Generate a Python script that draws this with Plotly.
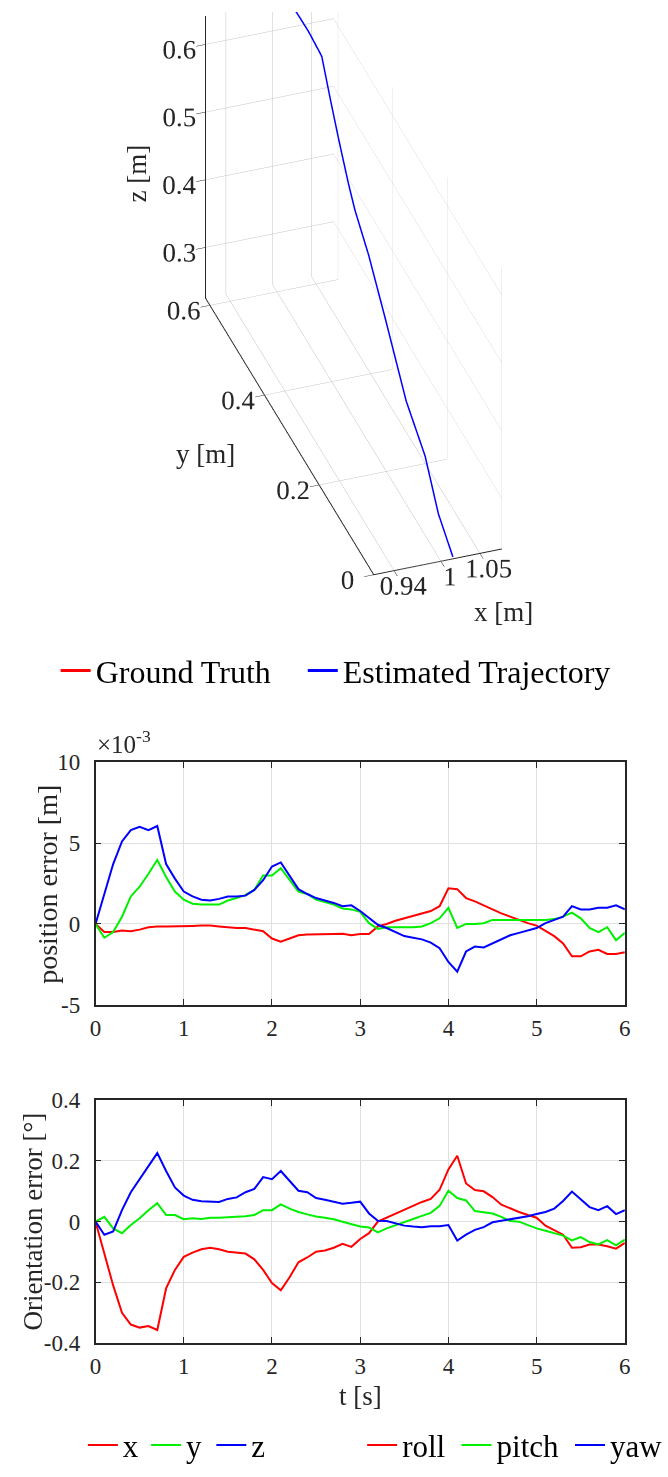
import plotly.graph_objects as go

# ---------------- data ----------------
t = [0.0, 0.1, 0.2, 0.3, 0.4, 0.5, 0.6, 0.7, 0.8, 0.9,
     1.0, 1.1, 1.2, 1.3, 1.4, 1.5, 1.6, 1.7, 1.8, 1.9,
     2.0, 2.1, 2.2, 2.3, 2.4, 2.5, 2.6, 2.7, 2.8, 2.9,
     3.0, 3.1, 3.2, 3.3, 3.4, 3.5, 3.6, 3.7, 3.8, 3.9,
     4.0, 4.1, 4.2, 4.3, 4.4, 4.5, 4.6, 4.7, 4.8, 4.9,
     5.0, 5.1, 5.2, 5.3, 5.4, 5.5, 5.6, 5.7, 5.8, 5.9, 6.0]

# position error, in units of 1e-3 m
pos_x = [0, -0.5, -0.5, -0.4, -0.45, -0.35, -0.2, -0.15, -0.15, -0.15,
         -0.12, -0.12, -0.1, -0.1, -0.15, -0.2, -0.25, -0.25, -0.35, -0.45,
         -0.9, -1.1, -0.9, -0.7, -0.65, -0.65, -0.62, -0.62, -0.6, -0.7,
         -0.62, -0.62, -0.15, 0.0, 0.2, 0.35, 0.5, 0.65, 0.8, 1.1,
         2.2, 2.15, 1.6, 1.4, 1.15, 0.85, 0.65, 0.45, 0.25, 0.05,
         -0.1, -0.4, -0.75, -1.2, -2.0, -2.0, -1.7, -1.6, -1.85, -1.85, -1.75]
pos_y = [0, -0.85, -0.5, 0.45, 1.7, 2.3, 3.1, 3.95, 2.9, 2.0,
         1.5, 1.25, 1.2, 1.2, 1.2, 1.45, 1.6, 1.8, 2.1, 3.0,
         3.0, 3.45, 2.7, 2.0, 1.85, 1.5, 1.35, 1.2, 0.95, 0.9,
         0.75, 0.05, -0.3, -0.2, -0.2, -0.2, -0.2, -0.15, 0.05, 0.35,
         1.0, -0.25, 0.0, 0.0, 0.05, 0.25, 0.25, 0.25, 0.25, 0.25,
         0.25, 0.25, 0.3, 0.45, 0.7, 0.35, -0.25, -0.5, -0.2, -1.0, -0.55]
pos_z = [0, 1.9, 3.7, 5.1, 5.8, 6.0, 5.8, 6.05, 3.7, 2.8,
         2.0, 1.7, 1.5, 1.45, 1.55, 1.7, 1.7, 1.75, 2.1, 2.7,
         3.55, 3.8, 3.0, 2.15, 1.85, 1.6, 1.45, 1.3, 1.1, 1.15,
         0.8, 0.4, -0.05, -0.25, -0.5, -0.75, -0.85, -0.95, -1.15, -1.5,
         -2.35, -2.95, -1.7, -1.4, -1.45, -1.2, -0.9, -0.7, -0.55, -0.4,
         -0.25, 0.05, 0.25, 0.45, 1.1, 0.9, 0.9, 1.0, 1.0, 1.15, 0.9]

# orientation error, degrees
roll = [0, -0.108, -0.21, -0.30, -0.339, -0.349, -0.344, -0.357, -0.22, -0.159,
        -0.116, -0.102, -0.091, -0.086, -0.091, -0.099, -0.102, -0.105, -0.124, -0.159,
        -0.202, -0.226, -0.183, -0.134, -0.118, -0.099, -0.095, -0.086, -0.073, -0.083,
        -0.057, -0.038, 0.0, 0.013, 0.027, 0.041, 0.054, 0.065, 0.075, 0.105,
        0.172, 0.217, 0.126, 0.104, 0.1, 0.081, 0.056, 0.043, 0.032, 0.022,
        0.013, -0.013, -0.029, -0.043, -0.086, -0.084, -0.075, -0.075, -0.081, -0.089, -0.07]
pitch = [0, 0.016, -0.022, -0.038, -0.011, 0.011, 0.038, 0.061, 0.022, 0.022,
         0.008, 0.011, 0.009, 0.013, 0.013, 0.014, 0.017, 0.018, 0.022, 0.038,
         0.038, 0.057, 0.043, 0.032, 0.024, 0.017, 0.013, 0.008, 0.0, -0.009,
         -0.016, -0.019, -0.035, -0.022, -0.011, 0.0, 0.009, 0.019, 0.029, 0.052,
         0.102, 0.078, 0.07, 0.035, 0.03, 0.027, 0.016, 0.002, 0.0, -0.011,
         -0.022, -0.03, -0.039, -0.046, -0.062, -0.051, -0.067, -0.075, -0.061, -0.078, -0.059]
yaw = [0, -0.043, -0.032, 0.038, 0.097, 0.14, 0.183, 0.226, 0.167, 0.113,
       0.086, 0.072, 0.067, 0.066, 0.065, 0.075, 0.08, 0.097, 0.108, 0.147,
       0.14, 0.167, 0.135, 0.102, 0.097, 0.078, 0.072, 0.065, 0.059, 0.062,
       0.066, 0.027, 0.003, 0.002, -0.005, -0.013, -0.016, -0.018, -0.015, -0.015,
       -0.011, -0.062, -0.043, -0.027, -0.018, -0.002, 0.003, 0.008, 0.011, 0.018,
       0.025, 0.032, 0.043, 0.068, 0.099, 0.075, 0.048, 0.038, 0.051, 0.025, 0.038]

# 3D trajectory [m]
gt_x = [1.022, 1.0217, 1.0215, 1.0211, 1.0208, 1.0204, 1.0201, 1.0197, 1.0192, 1.0187, 1.0185, 1.0179, 1.0174, 1.0167]
gt_y = [0.616, 0.547, 0.498, 0.466, 0.434, 0.397, 0.372, 0.321, 0.259, 0.209, 0.180, 0.109, 0.059, 0.004]
gt_z = [0.638, 0.640, 0.636, 0.595, 0.556, 0.515, 0.492, 0.460, 0.408, 0.364, 0.338, 0.304, 0.252, 0.225]
est_x = [1.0212, 1.0209, 1.0207, 1.0203, 1.0200, 1.0196, 1.0193, 1.0189, 1.0184, 1.0179, 1.0177, 1.0171, 1.0166, 1.0159]
est_y = [0.6137, 0.5447, 0.4957, 0.4637, 0.4317, 0.3947, 0.3697, 0.3187, 0.2567, 0.2067, 0.1777, 0.1067, 0.0567, 0.0017]
est_z = [0.6397, 0.6417, 0.6377, 0.5967, 0.5577, 0.5167, 0.4937, 0.4617, 0.4097, 0.3657, 0.3397, 0.3057, 0.2537, 0.2267]

x3_range = [0.914, 1.078]
y3_range = [0.0, 0.616]
z3_range = [0.225, 0.642]
x3_ticks = [0.94, 1, 1.05]
x3_ticktext = ['0.94', '1', '1.05']
y3_ticks = [0, 0.2, 0.4, 0.6]
y3_ticktext = ['0', '0.2', '0.4', '0.6']
z3_ticks = [0.3, 0.4, 0.5, 0.6]
z3_ticktext = ['0.3', '0.4', '0.5', '0.6']

t_ticks = [0, 1, 2, 3, 4, 5, 6]
pos_ticks = [-5, 0, 5, 10]
pos_ticktext = ['-5', '0', '5', '10']
ori_ticks = [-0.4, -0.2, 0, 0.2, 0.4]
ori_ticktext = ['-0.4', '-0.2', '0', '0.2', '0.4']

# ---------------- figure ----------------
W, H = 668, 1477
F = 'Liberation Serif'
AX = '#262626'
RED, GREEN, BLUE = '#ff0000', '#00f000', '#0000ff'


def px(v):
    return v / W


def py(v):
    return 1 - v / H


fig = go.Figure()
fig.add_trace(go.Scatter3d(x=gt_x, y=gt_y, z=gt_z, mode='lines', name='Ground Truth',
                           line=dict(color=RED, width=3), legend='legend'))
fig.add_trace(go.Scatter3d(x=est_x, y=est_y, z=est_z, mode='lines', name='Estimated Trajectory',
                           line=dict(color=BLUE, width=3), legend='legend2'))

for name, vals, col, lg in [('x', pos_x, RED, 'legend3'), ('y', pos_y, GREEN, 'legend4'),
                            ('z', pos_z, BLUE, 'legend5')]:
    fig.add_trace(go.Scatter(x=t, y=vals, mode='lines', name=name, xaxis='x', yaxis='y',
                             line=dict(color=col, width=2), legend=lg))
for name, vals, col, lg in [('roll', roll, RED, 'legend6'), ('pitch', pitch, GREEN, 'legend7'),
                            ('yaw', yaw, BLUE, 'legend8')]:
    fig.add_trace(go.Scatter(x=t, y=vals, mode='lines', name=name, xaxis='x2', yaxis='y2',
                             line=dict(color=col, width=2), legend=lg))


def ax3(rng, tv, tt):
    return dict(range=rng, tickvals=tv, ticktext=tt, autorange=False, title=dict(text=''),
                showbackground=False, showgrid=True, gridcolor='#c4c4c4', gridwidth=1,
                showline=True, linecolor=AX, linewidth=2, zeroline=False,
                ticks='outside', ticklen=10, tickcolor=AX, tickwidth=1, tickangle=0,
                tickfont=dict(family=F, size=18, color=AX), showspikes=False)


# camera (orthographic: zoom is set through the aspect ratio)
e_dir = (-0.270, -0.772, 0.575)
dist = 0.944
zoom = 1.62
cen = (-0.0946, -0.0521, -0.1145)
yr = y3_range[1] - y3_range[0]

scene = dict(
    domain=dict(x=[0, 1], y=[py(640), 1]),
    xaxis=ax3(x3_range, x3_ticks, x3_ticktext),
    yaxis=ax3(y3_range, y3_ticks, y3_ticktext),
    zaxis=ax3(z3_range, z3_ticks, z3_ticktext),
    aspectmode='manual',
    aspectratio=dict(x=zoom * (x3_range[1] - x3_range[0]) / yr, y=zoom,
                     z=zoom * (z3_range[1] - z3_range[0]) / yr),
    camera=dict(projection=dict(type='orthographic'),
                up=dict(x=0, y=0, z=1),
                center=dict(x=cen[0], y=cen[1], z=cen[2]),
                eye=dict(x=cen[0] + dist * e_dir[0], y=cen[1] + dist * e_dir[1], z=cen[2] + dist * e_dir[2])),
    bgcolor='white',
)


def ax2(dom, rng, tv, tt, anchor, standoff):
    return dict(domain=dom, range=rng, tickvals=tv, ticktext=tt, anchor=anchor,
                ticks='inside', ticklen=6, tickwidth=1, tickcolor=AX, mirror='ticks',
                showline=True, linecolor=AX, linewidth=1.5, showgrid=True, gridcolor='#e0e0e0',
                gridwidth=1, zeroline=False,
                tickfont=dict(family=F, size=23, color=AX), ticklabelstandoff=standoff)


xd = [px(92), px(636)]


def leg(xpix, ypix, size):
    return dict(x=px(xpix), y=py(ypix), xanchor='left', yanchor='middle', orientation='h',
                font=dict(family=F, size=size, color='black'), bgcolor='rgba(0,0,0,0)', borderwidth=0)


def note(text, xp, yp, size, angle=0):
    return dict(text=text, xref='paper', yref='paper', x=px(xp), y=py(yp),
                xanchor='center', yanchor='middle', textangle=angle, showarrow=False,
                font=dict(family=F, size=size, color=AX))


fig.update_layout(
    width=W, height=H, margin=dict(l=0, r=0, t=0, b=0),
    paper_bgcolor='white', plot_bgcolor='white',
    scene=scene,
    xaxis=ax2(xd, [0, 6], t_ticks, [str(v) for v in t_ticks], 'y', 2),
    yaxis=ax2([py(1010), py(763)], [-5, 10], pos_ticks, pos_ticktext, 'x', 9),
    xaxis2=ax2(xd, [0, 6], t_ticks, [str(v) for v in t_ticks], 'y2', 2),
    yaxis2=ax2([py(1354), py(1107)], [-0.4, 0.4], ori_ticks, ori_ticktext, 'x2', 9),
    legend=leg(51, 670, 32), legend2=leg(305, 670, 32),
    legend3=leg(79, 1458, 31), legend4=leg(144, 1458, 31), legend5=leg(211, 1458, 31),
    legend6=leg(366, 1458, 31), legend7=leg(463, 1458, 31), legend8=leg(580, 1458, 31),
    showlegend=True,
    annotations=[
        dict(text='×10<sup>-3</sup>', xref='paper', yref='paper', x=px(91), y=py(761),
             xanchor='left', yanchor='bottom', showarrow=False, font=dict(family=F, size=25, color=AX)),
        note('position error [m]', 43, 887, 28, -90),
        note('Orientation error [°]', 28, 1230, 27, -90),
        note('t [s]', 364, 1408, 27),
        note('z [m]', 135, 164, 27, -90),
        note('y [m]', 205, 450, 27),
        note('x [m]', 511, 610, 27),
    ],
)

fig.write_html("out.html")
